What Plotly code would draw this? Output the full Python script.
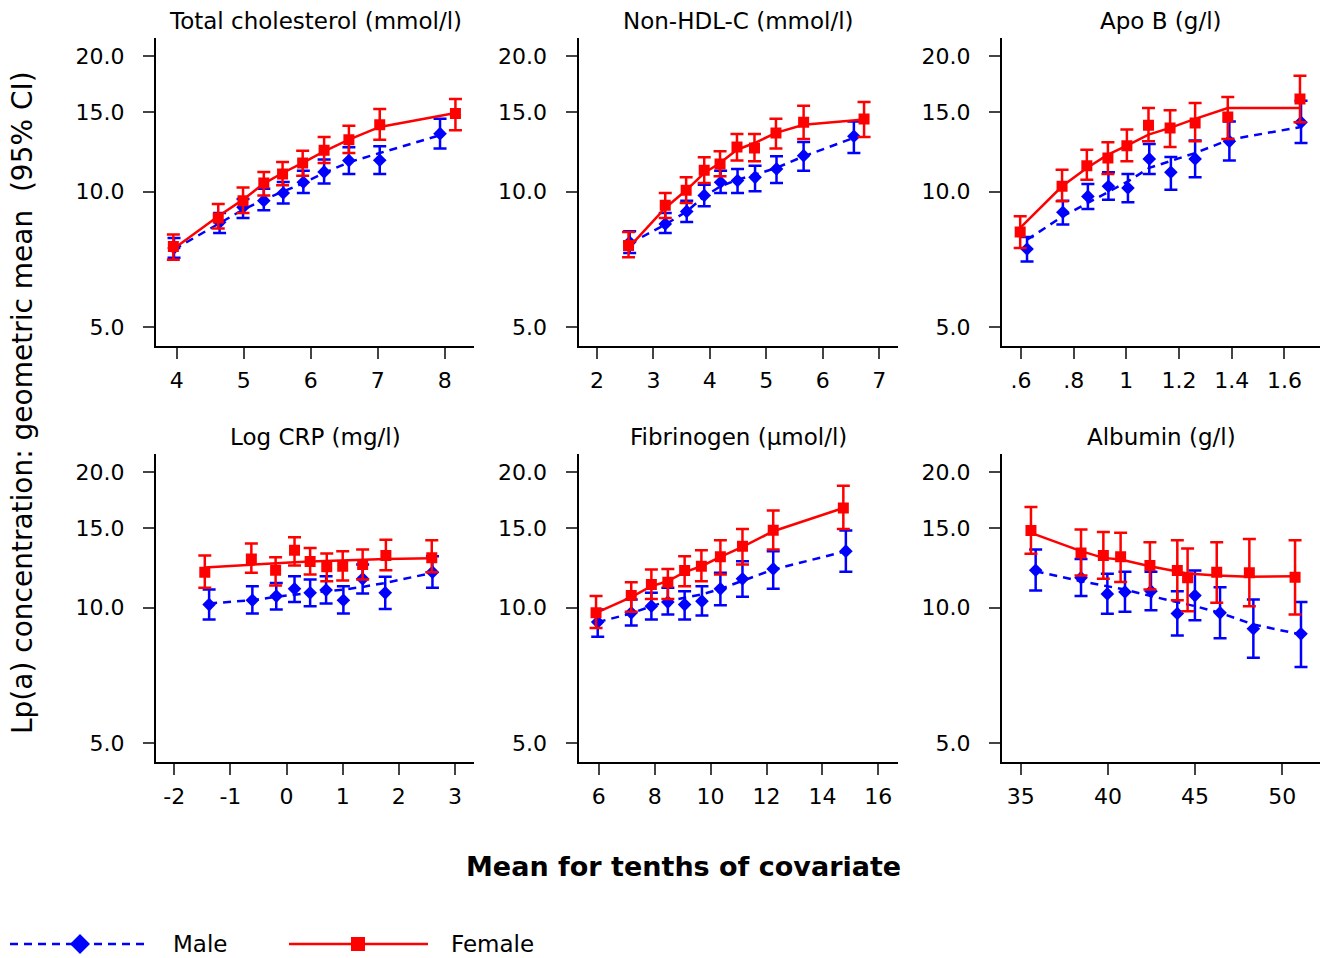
import plotly.graph_objects as go

W, H = 1323, 958
BLUE = "rgb(0,0,255)"
RED = "rgb(255,0,0)"
FONT = "DejaVu Sans"

# ---------------- data ----------------
titles = ["Total cholesterol (mmol/l)", "Non-HDL-C (mmol/l)", "Apo B (g/l)",
          "Log CRP (mg/l)", "Fibrinogen (\u00b5mol/l)", "Albumin (g/l)"]

# Total cholesterol
tc_x_f = [3.95, 4.62, 4.99, 5.30, 5.58, 5.88, 6.20, 6.57, 7.03, 8.16]
tc_f = [7.56, 8.74, 9.55, 10.45, 10.95, 11.58, 12.35, 13.04, 14.08, 14.90]
tc_f_lo = [7.06, 8.28, 8.97, 9.81, 10.33, 10.85, 11.58, 12.18, 13.04, 13.68]
tc_f_hi = [8.03, 9.39, 10.22, 11.06, 11.64, 12.33, 13.22, 14.01, 15.26, 16.06]
tc_f_fit = [7.46, 8.82, 9.60, 10.42, 11.00, 11.58, 12.29, 13.04, 13.92, 14.95]
tc_x_m = [3.96, 4.64, 4.99, 5.30, 5.59, 5.89, 6.20, 6.57, 7.03, 7.93]
tc_m = [7.50, 8.55, 9.23, 9.55, 9.93, 10.49, 11.06, 11.72, 11.74, 13.45]
tc_m_lo = [7.13, 8.10, 8.74, 9.09, 9.41, 9.93, 10.42, 10.95, 10.95, 12.46]
tc_m_hi = [7.89, 8.97, 9.63, 10.15, 10.51, 11.13, 11.78, 12.54, 12.61, 14.52]
tc_m_fit = [7.44, 8.52, 9.12, 9.60, 10.02, 10.45, 11.00, 11.62, 12.18, 13.34]

# Non-HDL-C
nh_x_f = [2.56, 3.21, 3.58, 3.90, 4.18, 4.48, 4.79, 5.17, 5.66, 6.73]
nh_f = [7.59, 9.33, 10.07, 11.15, 11.52, 12.56, 12.50, 13.50, 14.25, 14.50]
nh_f_lo = [7.15, 8.74, 9.44, 10.45, 10.82, 11.72, 11.68, 12.46, 13.09, 13.22]
nh_f_hi = [8.14, 9.93, 10.76, 11.92, 12.29, 13.43, 13.43, 14.52, 15.52, 15.81]
nh_f_fit = [7.50, 9.20, 10.07, 11.00, 11.58, 12.39, 12.82, 13.50, 14.08, 14.45]
nh_x_m = [2.58, 3.21, 3.59, 3.90, 4.19, 4.49, 4.80, 5.18, 5.66, 6.55]
nh_m = [7.72, 8.48, 9.04, 9.81, 10.49, 10.58, 10.76, 11.23, 12.02, 13.27]
nh_m_lo = [7.31, 8.10, 8.56, 9.28, 9.93, 9.93, 10.02, 10.45, 11.13, 12.18]
nh_m_hi = [8.17, 8.97, 9.55, 10.36, 11.13, 11.23, 11.42, 11.98, 12.89, 14.32]
nh_m_fit = [7.67, 8.45, 9.04, 9.76, 10.28, 10.63, 10.91, 11.29, 11.98, 13.16]

# Apo B
ab_x_f = [0.597, 0.756, 0.850, 0.930, 1.002, 1.084, 1.166, 1.261, 1.385, 1.659]
ab_f = [8.14, 10.28, 11.42, 11.88, 12.65, 14.04, 13.85, 14.20, 14.65, 16.06]
ab_f_lo = [7.50, 9.52, 10.63, 10.95, 11.68, 12.93, 12.56, 12.93, 13.09, 14.25]
ab_f_hi = [8.82, 11.19, 12.39, 12.87, 13.73, 15.33, 15.15, 15.73, 16.22, 18.09]
ab_f_fit = [8.31, 10.28, 11.29, 12.08, 12.65, 13.38, 13.85, 14.50, 15.33, 15.33]
ab_x_m = [0.623, 0.759, 0.854, 0.932, 1.006, 1.087, 1.169, 1.261, 1.391, 1.663]
ab_m = [7.46, 9.00, 9.76, 10.28, 10.19, 11.82, 11.04, 11.82, 12.93, 14.25]
ab_m_lo = [7.00, 8.45, 9.15, 9.60, 9.47, 10.95, 10.10, 10.76, 11.72, 12.82]
ab_m_hi = [7.93, 9.55, 10.40, 11.04, 10.95, 12.76, 11.94, 12.98, 14.32, 15.92]
ab_m_fit = [7.82, 8.82, 9.44, 9.97, 10.54, 11.29, 11.68, 12.18, 13.04, 13.92]

# Log CRP
crp_x_f = [-1.456, -0.627, -0.195, 0.142, 0.420, 0.716, 1.000, 1.355, 1.769, 2.586]
crp_f = [11.98, 12.82, 12.10, 13.40, 12.65, 12.31, 12.35, 12.46, 13.04, 12.89]
crp_f_lo = [11.06, 11.94, 11.19, 12.39, 11.84, 11.44, 11.48, 11.54, 12.10, 11.98]
crp_f_hi = [13.04, 13.87, 12.93, 14.32, 13.56, 13.18, 13.34, 13.45, 14.15, 14.11]
crp_f_fit = [12.27, 12.46, 12.52, 12.61, 12.65, 12.69, 12.73, 12.78, 12.82, 12.87]
crp_x_m = [-1.379, -0.609, -0.183, 0.142, 0.420, 0.704, 1.012, 1.355, 1.757, 2.598]
crp_m = [10.15, 10.38, 10.60, 11.00, 10.78, 10.93, 10.38, 11.58, 10.78, 11.98]
crp_m_lo = [9.41, 9.70, 9.90, 10.28, 10.07, 10.21, 9.70, 10.74, 9.93, 11.06]
crp_m_hi = [10.96, 11.15, 11.34, 11.74, 11.54, 11.74, 11.15, 12.46, 11.70, 13.00]
crp_m_fit = [10.21, 10.38, 10.56, 10.69, 10.78, 10.87, 10.96, 11.11, 11.34, 11.94]

# Fibrinogen
fb_x_f = [5.90, 7.16, 7.88, 8.47, 9.07, 9.67, 10.35, 11.14, 12.24, 14.75]
fb_f = [9.73, 10.63, 11.25, 11.38, 12.08, 12.35, 12.96, 13.68, 14.85, 16.64]
fb_f_lo = [9.01, 9.78, 10.45, 10.45, 11.15, 11.44, 11.84, 12.46, 13.45, 14.95]
fb_f_hi = [10.60, 11.38, 12.14, 12.18, 13.00, 13.40, 14.11, 14.95, 16.42, 18.65]
fb_f_fit = [9.73, 10.54, 11.15, 11.44, 11.98, 12.35, 12.96, 13.63, 14.77, 16.64]
fb_x_m = [5.96, 7.16, 7.88, 8.47, 9.07, 9.69, 10.35, 11.14, 12.24, 14.84]
fb_m = [9.28, 9.73, 10.07, 10.28, 10.15, 10.33, 11.00, 11.58, 12.18, 13.34]
fb_m_lo = [8.61, 9.12, 9.41, 9.65, 9.41, 9.60, 10.12, 10.56, 11.00, 12.00]
fb_m_hi = [9.90, 10.42, 10.78, 11.06, 10.87, 11.15, 11.94, 12.67, 13.34, 14.82]
fb_m_fit = [9.28, 9.70, 10.07, 10.33, 10.51, 10.69, 11.00, 11.48, 12.14, 13.34]

# Albumin
al_x_f = [35.59, 38.46, 39.74, 40.73, 42.41, 43.98, 44.57, 46.24, 48.11, 50.73]
al_f = [14.82, 13.22, 13.04, 12.96, 12.39, 12.08, 11.64, 11.98, 11.94, 11.68]
al_f_lo = [13.16, 11.78, 11.58, 11.40, 10.96, 10.38, 9.81, 10.24, 10.07, 9.65]
al_f_hi = [16.73, 14.90, 14.72, 14.65, 13.96, 14.11, 13.52, 13.96, 14.20, 14.11]
al_f_fit = [14.65, 13.34, 12.89, 12.78, 12.35, 12.00, 11.90, 11.78, 11.70, 11.74]
al_x_m = [35.86, 38.46, 39.97, 40.98, 42.47, 43.98, 44.99, 46.43, 48.34, 51.07]
al_m = [12.10, 11.64, 10.72, 10.83, 10.87, 9.70, 10.63, 9.73, 8.97, 8.74]
al_m_lo = [10.91, 10.60, 9.68, 9.78, 9.86, 8.67, 9.37, 8.54, 7.73, 7.38]
al_m_hi = [13.45, 12.82, 11.88, 12.00, 12.00, 10.87, 12.08, 11.09, 10.42, 10.29]
al_m_fit = [12.04, 11.44, 11.15, 10.96, 10.60, 10.28, 10.07, 9.73, 9.17, 8.71]

# axis ticks
x_ticks = [
    ([4, 5, 6, 7, 8], ["4", "5", "6", "7", "8"]),
    ([2, 3, 4, 5, 6, 7], ["2", "3", "4", "5", "6", "7"]),
    ([0.6, 0.8, 1.0, 1.2, 1.4, 1.6], [".6", ".8", "1", "1.2", "1.4", "1.6"]),
    ([-2, -1, 0, 1, 2, 3], ["-2", "-1", "0", "1", "2", "3"]),
    ([6, 8, 10, 12, 14, 16], ["6", "8", "10", "12", "14", "16"]),
    ([35, 40, 45, 50], ["35", "40", "45", "50"]),
]
y_tickvals = [5, 10, 15, 20]
y_ticktext = ["5.0", "10.0", "15.0", "20.0"]

panels = [
    (tc_x_f, tc_f, tc_f_lo, tc_f_hi, tc_f_fit, tc_x_m, tc_m, tc_m_lo, tc_m_hi, tc_m_fit),
    (nh_x_f, nh_f, nh_f_lo, nh_f_hi, nh_f_fit, nh_x_m, nh_m, nh_m_lo, nh_m_hi, nh_m_fit),
    (ab_x_f, ab_f, ab_f_lo, ab_f_hi, ab_f_fit, ab_x_m, ab_m, ab_m_lo, ab_m_hi, ab_m_fit),
    (crp_x_f, crp_f, crp_f_lo, crp_f_hi, crp_f_fit, crp_x_m, crp_m, crp_m_lo, crp_m_hi, crp_m_fit),
    (fb_x_f, fb_f, fb_f_lo, fb_f_hi, fb_f_fit, fb_x_m, fb_m, fb_m_lo, fb_m_hi, fb_m_fit),
    (al_x_f, al_f, al_f_lo, al_f_hi, al_f_fit, al_x_m, al_m, al_m_lo, al_m_hi, al_m_fit),
]

# ---------------- layout geometry (pixels) ----------------
x_ranges = [[3.691, 8.437], [1.674, 7.331], [0.528, 1.735],
            [-2.325, 3.338], [5.272, 16.706], [33.93, 52.16]]
y_range_log = [0.6575, 1.3403]
col_px = [(156, 474), (578.5, 898), (1002, 1320)]
row_px = [(38.3, 346), (454.3, 761.7)]

TICK_SIZE = 22
TITLE_SIZE = 23


def px_x(x):
    return x / W


def px_y(y):
    return 1 - y / H


fig = go.Figure()
layout = dict(
    width=W, height=H, margin=dict(l=0, r=0, t=0, b=0),
    paper_bgcolor="white", plot_bgcolor="white", showlegend=False,
    font=dict(family=FONT, size=20, color="black"),
)
annotations = []

for i, p in enumerate(panels):
    xf, f, flo, fhi, ffit, xm, m, mlo, mhi, mfit = p
    r, c = divmod(i, 3)
    n = "" if i == 0 else str(i + 1)
    xa, ya = "x" + n, "y" + n

    # male fitted line + points
    fig.add_trace(go.Scatter(x=xm, y=mfit, mode="lines", xaxis=xa, yaxis=ya,
                             line=dict(color=BLUE, width=2.5, dash="8px,6px"),
                             hoverinfo="skip"))
    fig.add_trace(go.Scatter(
        x=xm, y=m, mode="markers", xaxis=xa, yaxis=ya, name="Male",
        marker=dict(symbol="diamond", size=10.5, color=BLUE),
        error_y=dict(type="data", symmetric=False,
                     array=[h - v for h, v in zip(mhi, m)],
                     arrayminus=[v - l for v, l in zip(m, mlo)],
                     color=BLUE, thickness=2.5, width=6.5)))
    # female fitted line + points
    fig.add_trace(go.Scatter(x=xf, y=ffit, mode="lines", xaxis=xa, yaxis=ya,
                             line=dict(color=RED, width=2.5), hoverinfo="skip"))
    fig.add_trace(go.Scatter(
        x=xf, y=f, mode="markers", xaxis=xa, yaxis=ya, name="Female",
        marker=dict(symbol="square", size=11, color=RED),
        error_y=dict(type="data", symmetric=False,
                     array=[h - v for h, v in zip(fhi, f)],
                     arrayminus=[v - l for v, l in zip(f, flo)],
                     color=RED, thickness=2.5, width=6.5)))

    x0, x1 = col_px[c]
    y0, y1 = row_px[r]
    tv, tt = x_ticks[i]
    layout["xaxis" + n] = dict(
        domain=[px_x(x0), px_x(x1)], anchor=ya, range=x_ranges[i],
        tickvals=tv, ticktext=tt, ticks="outside", ticklen=11, tickwidth=2,
        showline=True, linecolor="black", linewidth=2, showgrid=False,
        zeroline=False, tickfont=dict(size=TICK_SIZE, family=FONT, color="black"),
        ticklabelstandoff=3)
    layout["yaxis" + n] = dict(
        domain=[px_y(y1), px_y(y0)], anchor=xa, type="log", range=y_range_log,
        tickvals=y_tickvals, ticktext=y_ticktext, ticks="outside", ticklen=11,
        tickwidth=2, showline=True, linecolor="black", linewidth=2,
        showgrid=False, zeroline=False,
        tickfont=dict(size=TICK_SIZE, family=FONT, color="black"),
        ticklabelstandoff=14)
    annotations.append(dict(
        text=titles[i], x=px_x((x0 + x1) / 2), y=px_y(y0 - 17), xref="paper",
        yref="paper", xanchor="center", yanchor="middle", showarrow=False,
        font=dict(size=TITLE_SIZE, family=FONT, color="black")))

# axis titles
annotations.append(dict(
    text="<b>Mean for tenths of covariate</b>", x=px_x(683), y=px_y(866),
    xref="paper", yref="paper", xanchor="center", yanchor="middle",
    showarrow=False, font=dict(size=27, family=FONT, color="black")))
annotations.append(dict(
    text="Lp(a) concentration: geometric mean&nbsp; (95% CI)", x=px_x(23),
    y=px_y(403), xref="paper", yref="paper", xanchor="center",
    yanchor="middle", textangle=-90, showarrow=False,
    font=dict(size=28, family=FONT, color="black")))

# legend (drawn manually to match the long sample lines)
LY = 944
shapes = [
    dict(type="line", xref="paper", yref="paper", x0=px_x(10), x1=px_x(148),
         y0=px_y(LY), y1=px_y(LY), line=dict(color=BLUE, width=2.5, dash="8px,6px")),
    dict(type="path", xref="paper", yref="paper", fillcolor=BLUE,
         line=dict(width=0, color=BLUE),
         path="M{},{} L{},{} L{},{} L{},{} Z".format(
             px_x(80), px_y(LY - 10), px_x(90), px_y(LY), px_x(80),
             px_y(LY + 10), px_x(70), px_y(LY))),
    dict(type="line", xref="paper", yref="paper", x0=px_x(289), x1=px_x(428),
         y0=px_y(LY), y1=px_y(LY), line=dict(color=RED, width=2.5)),
    dict(type="rect", xref="paper", yref="paper", fillcolor=RED,
         line=dict(width=0, color=RED),
         x0=px_x(351), x1=px_x(365), y0=px_y(LY + 7), y1=px_y(LY - 7)),
]
annotations.append(dict(text="Male", x=px_x(171), y=px_y(LY), xref="paper",
                        yref="paper", xanchor="left", yanchor="middle",
                        showarrow=False, font=dict(size=23, family=FONT, color="black")))
annotations.append(dict(text="Female", x=px_x(449), y=px_y(LY), xref="paper",
                        yref="paper", xanchor="left", yanchor="middle",
                        showarrow=False, font=dict(size=23, family=FONT, color="black")))

layout["annotations"] = annotations
layout["shapes"] = shapes
fig.update_layout(**layout)
fig.write_html("out.html")
